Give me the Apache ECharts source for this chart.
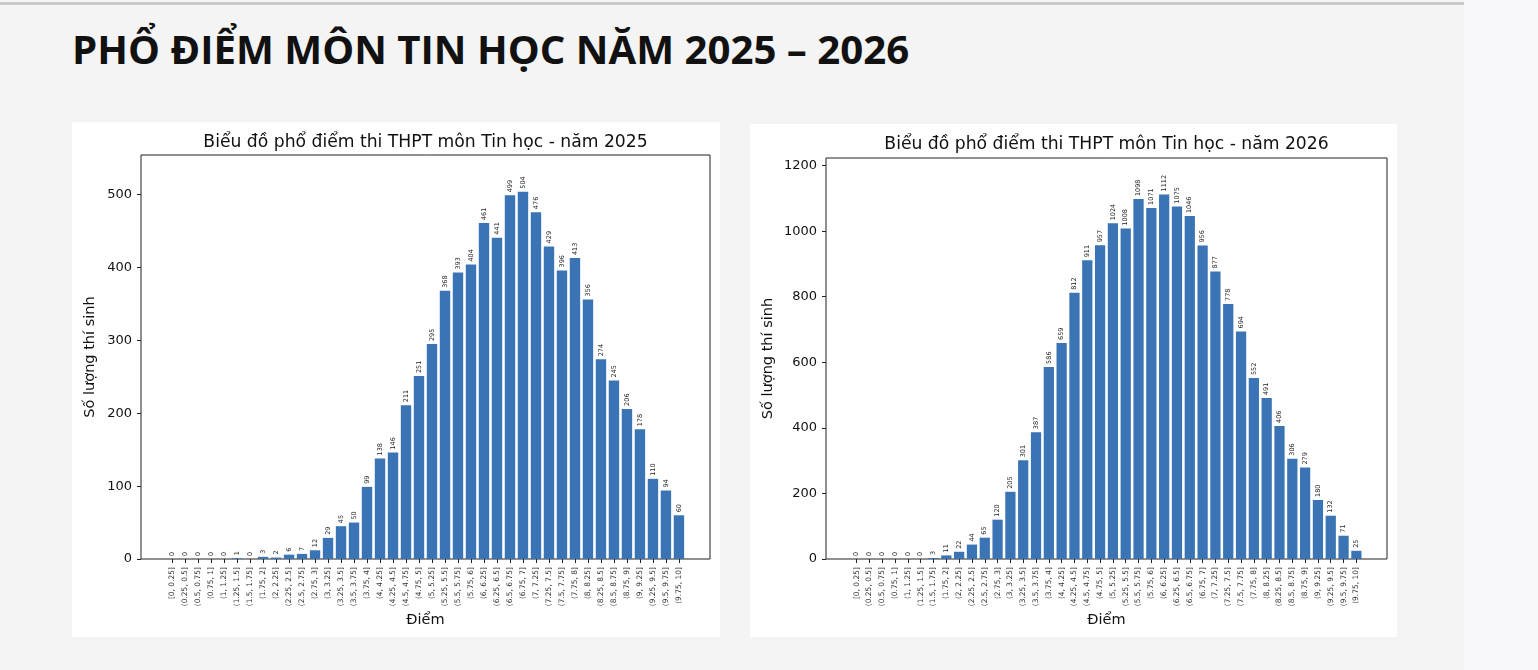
<!DOCTYPE html>
<html>
<head>
<meta charset="utf-8">
<script src="https://cdn.jsdelivr.net/npm/echarts@6/dist/echarts.min.js"></script>
<style>
  html, body { margin: 0; padding: 0; }
  body { width: 1538px; height: 670px; background: #f8f8fb; position: relative; overflow: hidden; }
  .page { position: absolute; left: 0; top: 0; width: 1464px; height: 670px; background: #f4f4f4; }
  .topline { position: absolute; left: 0; top: 2px; width: 1464px; height: 3px; background: #c9c9c9; }
  h1 { position: absolute; left: 72px; top: 21px; margin: 0; font-family: "Open Sans", sans-serif;
       font-weight: 700; font-size: 40.2px; color: #111; white-space: nowrap; }
  .panel { position: absolute; background: #fff; }
</style>
</head>
<body>
<div class="page"></div>
<div class="topline"></div>
<h1>PHỔ ĐIỂM MÔN TIN HỌC NĂM 2025 – 2026</h1>
<div class="panel" id="chart2025" style="left:72px;top:122px;width:648px;height:515px"></div>
<div class="panel" id="chart2026" style="left:750px;top:124px;width:647px;height:513px"></div>
<script>
const bins = [
  "[0, 0.25]", "(0.25, 0.5]", "(0.5, 0.75]", "(0.75, 1]", "(1, 1.25]", "(1.25, 1.5]", "(1.5, 1.75]", "(1.75, 2]",
  "(2, 2.25]", "(2.25, 2.5]", "(2.5, 2.75]", "(2.75, 3]", "(3, 3.25]", "(3.25, 3.5]", "(3.5, 3.75]", "(3.75, 4]",
  "(4, 4.25]", "(4.25, 4.5]", "(4.5, 4.75]", "(4.75, 5]", "(5, 5.25]", "(5.25, 5.5]", "(5.5, 5.75]", "(5.75, 6]",
  "(6, 6.25]", "(6.25, 6.5]", "(6.5, 6.75]", "(6.75, 7]", "(7, 7.25]", "(7.25, 7.5]", "(7.5, 7.75]", "(7.75, 8]",
  "(8, 8.25]", "(8.25, 8.5]", "(8.5, 8.75]", "(8.75, 9]", "(9, 9.25]", "(9.25, 9.5]", "(9.5, 9.75]", "(9.75, 10]"
];

const counts2025 = [
  0, 0, 0, 0, 0, 1, 0, 3, 2, 6, 7, 12, 29, 45, 50, 99, 138, 146, 211, 251,
  295, 368, 393, 404, 461, 441, 499, 504, 476, 429, 396, 413, 356, 274, 245, 206, 178, 110, 94, 60
];

const counts2026 = [
  0, 0, 0, 0, 0, 0, 3, 11, 22, 44, 65, 120, 205, 301, 387, 586, 659, 812, 911, 957,
  1024, 1008, 1098, 1071, 1112, 1075, 1046, 956, 877, 778, 694, 552, 491, 406, 306, 279, 180, 132, 71, 25
];

const yTicks2025 = [0, 100, 200, 300, 400, 500];
const yTicks2026 = [0, 200, 400, 600, 800, 1000, 1200];

const FONT = "DejaVu Sans";
const BAR = "#3a74b4";

function makeOption(title, counts, yTicks, width, grid, nameGap) {
  const idx = bins.map((_, i) => i);
  const ymax = Math.max(...counts) * 1.1;
  // matplotlib-like 5% margin around the bar extent
  const span = (bins.length - 1) + 0.8;
  const pad = span * 0.05 + 0.4;
  const plotCenter = (grid.left + width - grid.right) / 2;
  return {
    animation: false,
    textStyle: { fontFamily: FONT },
    graphic: [{
      type: "text",
      x: plotCenter,
      y: 21,
      style: {
        text: title,
        align: "center",
        verticalAlign: "middle",
        fontFamily: FONT,
        fontSize: 17.2,
        fill: "#111"
      }
    }],
    grid: {
      left: grid.left, right: grid.right, top: grid.top, bottom: grid.bottom,
      outerBoundsMode: "none",
      show: true, borderColor: "#222", borderWidth: 1, backgroundColor: "#fff"
    },
    xAxis: {
      type: "value",
      min: -pad,
      max: bins.length - 1 + pad,
      name: "Điểm",
      nameLocation: "middle",
      nameGap: 54,
      nameMoveOverlap: false,
      nameTextStyle: { fontFamily: FONT, fontSize: 14.5, color: "#111" },
      splitLine: { show: false },
      axisLine: { show: false, onZero: false },
      axisTick: { show: true, customValues: idx, length: 4, lineStyle: { color: "#222" } },
      axisLabel: {
        customValues: idx,
        rotate: 90,
        fontSize: 7.5,
        color: "#333",
        margin: 8,
        formatter: (v) => bins[Math.round(v)]
      }
    },
    yAxis: {
      type: "value",
      min: 0,
      max: ymax,
      name: "Số lượng thí sinh",
      nameLocation: "middle",
      nameGap: nameGap,
      nameMoveOverlap: false,
      nameTextStyle: { fontFamily: FONT, fontSize: 14.5, color: "#111" },
      splitLine: { show: false },
      axisLine: { show: false, onZero: false },
      axisTick: { show: true, customValues: yTicks, length: 4, lineStyle: { color: "#222" } },
      axisLabel: {
        customValues: yTicks,
        fontSize: 13,
        color: "#111",
        margin: 9,
        formatter: (v) => String(v)
      }
    },
    series: [{
      type: "bar",
      data: counts.map((c, i) => [i, c]),
      barWidth: "80%",
      itemStyle: { color: BAR },
      label: {
        show: true,
        position: "top",
        rotate: 90,
        align: "left",
        verticalAlign: "middle",
        distance: 3,
        fontSize: 6.5,
        color: "#222",
        formatter: (p) => p.value[1]
      }
    }]
  };
}

function draw(id, title, counts, yTicks, grid, nameGap) {
  const el = document.getElementById(id);
  const chart = echarts.init(el);
  chart.setOption(makeOption(title, counts, yTicks, el.clientWidth, grid, nameGap));
}

draw("chart2025", "Biểu đồ phổ điểm thi THPT môn Tin học - năm 2025", counts2025, yTicks2025,
  { left: 69, right: 10, top: 33, bottom: 78 }, 43);
draw("chart2026", "Biểu đồ phổ điểm thi THPT môn Tin học - năm 2026", counts2026, yTicks2026,
  { left: 76, right: 10, top: 34, bottom: 78 }, 50);
</script>
</body>
</html>
